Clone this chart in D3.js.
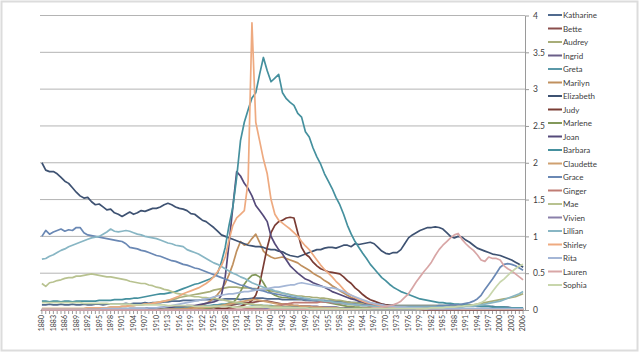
<!DOCTYPE html>
<html>
<head>
<meta charset="utf-8">
<script src="https://cdn.jsdelivr.net/npm/d3@7"></script>
<style>
  body { margin: 0; background: #fff; }
  svg { display: block; font-family: Lato, "Open Sans", sans-serif; }
</style>
</head>
<body>
<svg></svg>
<script>
// categories: one per year, labels every 3rd year
let years = d3.range(1880, 2007)
let yTicks = [0, 0.5, 1, 1.5, 2, 2.5, 3, 3.5, 4]

let names = ["Katharine", "Bette", "Audrey", "Ingrid", "Greta", "Marilyn", "Elizabeth", "Judy",
  "Marlene", "Joan", "Barbara", "Claudette", "Grace", "Ginger", "Mae", "Vivien", "Lillian",
  "Shirley", "Rita", "Lauren", "Sophia"]

let colors = ["#506a8e", "#8a4e4c", "#a8ad78", "#6a5e88", "#5a98a8", "#c0905e", "#3e5272", "#7a3c34",
  "#82985a", "#554a7a", "#45909e", "#cfa070", "#6a88b4", "#c07c74", "#b8c290", "#8a80aa", "#88b6c4",
  "#eeaa80", "#a4b6d6", "#d8a6a6", "#c8d6ac"]

// values per year 1880..2006 (10 per row)
let katharine = [
  0.07,0.07,0.08,0.07,0.07,0.08,0.07,0.07,0.08,0.07,
  0.07,0.08,0.07,0.07,0.08,0.08,0.07,0.08,0.08,0.08,
  0.08,0.08,0.09,0.08,0.09,0.09,0.09,0.1,0.09,0.1,
  0.1,0.1,0.11,0.11,0.12,0.12,0.12,0.13,0.13,0.13,
  0.13,0.13,0.14,0.14,0.14,0.14,0.14,0.14,0.15,0.15,
  0.15,0.15,0.14,0.15,0.15,0.16,0.16,0.16,0.16,0.15,
  0.15,0.15,0.15,0.14,0.14,0.14,0.14,0.14,0.14,0.13,
  0.13,0.13,0.13,0.13,0.13,0.12,0.12,0.12,0.12,0.11,
  0.11,0.1,0.1,0.1,0.09,0.09,0.09,0.08,0.08,0.08,
  0.07,0.07,0.07,0.06,0.06,0.06,0.06,0.06,0.06,0.06,
  0.06,0.06,0.06,0.06,0.06,0.06,0.06,0.06,0.06,0.06,
  0.06,0.06,0.06,0.06,0.05,0.05,0.05,0.05,0.05,0.04,
  0.04,0.04,0.04,0.03,0.03,0.03,0.03]
let bette = [
  0,0,0,0,0,0,0,0,0,0,
  0,0,0,0,0,0,0,0,0,0,
  0,0,0,0,0,0,0,0,0,0,
  0.01,0.01,0.01,0.01,0.01,0.01,0.01,0.01,0.01,0.02,
  0.02,0.02,0.03,0.03,0.03,0.04,0.04,0.05,0.05,0.06,
  0.07,0.08,0.09,0.1,0.1,0.1,0.11,0.12,0.12,0.12,
  0.11,0.1,0.09,0.08,0.08,0.07,0.06,0.06,0.05,0.05,
  0.05,0.04,0.04,0.04,0.03,0.03,0.03,0.02,0.02,0.02,
  0.02,0.02,0.01,0.01,0.01,0.01,0.01,0.01,0.01,0.01,
  0.01,0.01,0.01,0.01,0.01,0.01,0.01,0.01,0.01,0.01,
  0,0,0,0,0,0,0,0,0,0,
  0,0,0,0,0,0,0,0,0,0,
  0,0,0,0,0,0,0]
let audrey = [
  0.02,0.02,0.02,0.02,0.02,0.02,0.02,0.02,0.02,0.02,
  0.02,0.02,0.03,0.03,0.03,0.03,0.03,0.03,0.04,0.04,
  0.04,0.05,0.05,0.06,0.06,0.07,0.07,0.08,0.08,0.09,
  0.1,0.11,0.12,0.13,0.14,0.15,0.17,0.18,0.19,0.2,
  0.21,0.22,0.23,0.24,0.25,0.27,0.28,0.29,0.3,0.31,
  0.31,0.31,0.3,0.3,0.3,0.29,0.29,0.28,0.28,0.27,
  0.26,0.25,0.24,0.23,0.22,0.21,0.2,0.19,0.19,0.18,
  0.18,0.17,0.17,0.16,0.16,0.15,0.14,0.13,0.13,0.12,
  0.11,0.1,0.1,0.09,0.09,0.08,0.08,0.07,0.07,0.07,
  0.06,0.06,0.06,0.06,0.06,0.06,0.06,0.06,0.06,0.06,
  0.06,0.06,0.06,0.06,0.06,0.06,0.06,0.06,0.06,0.06,
  0.06,0.06,0.07,0.07,0.08,0.09,0.1,0.11,0.12,0.13,
  0.14,0.15,0.16,0.17,0.18,0.2,0.22]
let ingrid = [
  0,0,0,0,0,0,0,0,0,0,
  0,0,0,0,0,0,0,0,0,0,
  0,0,0,0,0,0,0,0,0,0,
  0,0,0,0,0,0,0,0,0,0,
  0,0,0,0,0,0,0,0,0,0,
  0,0,0,0.01,0.01,0.01,0.01,0.01,0.01,0.02,
  0.02,0.03,0.03,0.04,0.04,0.05,0.05,0.05,0.05,0.05,
  0.05,0.05,0.05,0.04,0.04,0.04,0.04,0.04,0.03,0.03,
  0.03,0.03,0.03,0.03,0.02,0.02,0.02,0.02,0.02,0.02,
  0.01,0.01,0.01,0.01,0.01,0.01,0.01,0.01,0.01,0.01,
  0.01,0.01,0.01,0.01,0.01,0.01,0.01,0.01,0.01,0.01,
  0.01,0.01,0.01,0.01,0.01,0.01,0.01,0.01,0.01,0.01,
  0.01,0.01,0.01,0.01,0.01,0.01,0.01]
let greta = [
  0.01,0.01,0.01,0.01,0.01,0.01,0.01,0.01,0.01,0.01,
  0.01,0.01,0.01,0.01,0.01,0.01,0.01,0.01,0.01,0.01,
  0.02,0.02,0.02,0.02,0.02,0.02,0.02,0.02,0.02,0.02,
  0.02,0.02,0.03,0.03,0.03,0.03,0.03,0.04,0.04,0.04,
  0.04,0.05,0.05,0.06,0.06,0.07,0.07,0.08,0.08,0.09,
  0.09,0.09,0.09,0.08,0.08,0.07,0.07,0.07,0.06,0.06,
  0.06,0.05,0.05,0.05,0.04,0.04,0.04,0.04,0.03,0.03,
  0.03,0.03,0.03,0.02,0.02,0.02,0.02,0.02,0.02,0.02,
  0.01,0.01,0.01,0.01,0.01,0.01,0.01,0.01,0.01,0.01,
  0.01,0.01,0.01,0.01,0.01,0.01,0.01,0.01,0.01,0.01,
  0.01,0.01,0.01,0.01,0.01,0.01,0.01,0.01,0.01,0.01,
  0.01,0.01,0.01,0.01,0.01,0.01,0.01,0.01,0.01,0.01,
  0.01,0.01,0.01,0.01,0.01,0.01,0.01]
let marilyn = [
  0,0,0,0,0,0,0,0,0,0,
  0,0,0,0,0,0,0,0,0,0,
  0,0,0,0,0,0,0,0,0,0,
  0,0,0,0,0.01,0.01,0.01,0.02,0.02,0.03,
  0.04,0.05,0.07,0.09,0.12,0.16,0.21,0.28,0.36,0.48,
  0.62,0.8,0.93,0.88,0.9,0.97,1.03,0.92,0.8,0.75,
  0.72,0.7,0.71,0.72,0.7,0.68,0.66,0.64,0.6,0.57,
  0.54,0.5,0.47,0.44,0.4,0.37,0.33,0.3,0.26,0.23,
  0.2,0.17,0.15,0.13,0.11,0.1,0.08,0.07,0.06,0.05,
  0.05,0.04,0.04,0.03,0.03,0.03,0.03,0.02,0.02,0.02,
  0.02,0.02,0.02,0.02,0.02,0.02,0.02,0.02,0.02,0.02,
  0.01,0.01,0.01,0.01,0.01,0.01,0.01,0.01,0.01,0.01,
  0.01,0.01,0.01,0.01,0.01,0.01,0.01]
let elizabeth = [
  2.0,1.9,1.88,1.88,1.85,1.8,1.75,1.72,1.66,1.6,
  1.55,1.52,1.53,1.47,1.43,1.44,1.4,1.36,1.37,1.32,
  1.3,1.27,1.3,1.33,1.3,1.32,1.35,1.34,1.36,1.38,
  1.38,1.4,1.43,1.45,1.43,1.4,1.38,1.37,1.35,1.31,
  1.3,1.26,1.22,1.2,1.16,1.12,1.07,1.02,1.0,0.98,
  0.96,0.94,0.92,0.9,0.88,0.87,0.86,0.86,0.85,0.83,
  0.82,0.82,0.8,0.79,0.76,0.74,0.73,0.72,0.74,0.76,
  0.78,0.8,0.82,0.82,0.84,0.85,0.85,0.84,0.86,0.88,
  0.88,0.86,0.9,0.89,0.9,0.91,0.92,0.9,0.85,0.8,
  0.77,0.76,0.78,0.78,0.82,0.9,0.98,1.02,1.05,1.08,
  1.1,1.12,1.12,1.13,1.12,1.1,1.05,1.0,0.98,1.0,
  0.99,0.95,0.92,0.88,0.84,0.82,0.8,0.78,0.76,0.75,
  0.74,0.72,0.7,0.68,0.65,0.62,0.58]
let judy = [
  0,0,0,0,0,0,0,0,0,0,
  0,0,0,0,0,0,0,0,0,0,
  0,0,0,0,0,0,0,0,0,0,
  0,0,0,0,0,0,0,0,0,0,
  0,0,0,0.01,0.01,0.01,0.02,0.02,0.02,0.03,
  0.03,0.04,0.05,0.07,0.09,0.13,0.2,0.35,0.6,0.85,
  1.05,1.15,1.2,1.22,1.25,1.26,1.25,1.05,0.85,0.76,
  0.72,0.65,0.6,0.56,0.54,0.52,0.51,0.5,0.49,0.45,
  0.4,0.36,0.3,0.26,0.21,0.17,0.14,0.12,0.1,0.08,
  0.07,0.06,0.05,0.04,0.03,0.03,0.02,0.02,0.02,0.02,
  0.01,0.01,0.01,0.01,0.01,0.01,0.01,0.01,0.01,0.01,
  0.01,0.01,0.01,0.01,0.01,0.01,0.01,0.01,0.01,0.01,
  0.01,0.01,0.01,0.01,0.01,0.01,0.01]
let marlene = [
  0,0,0,0,0,0,0,0,0,0,
  0,0,0,0,0,0,0,0,0,0,
  0,0,0,0,0,0,0,0,0,0,
  0,0,0,0,0,0,0,0,0,0,
  0.01,0.01,0.02,0.02,0.03,0.04,0.05,0.06,0.07,0.09,
  0.1,0.15,0.25,0.35,0.42,0.47,0.48,0.45,0.37,0.28,
  0.23,0.2,0.18,0.17,0.17,0.16,0.16,0.15,0.15,0.14,
  0.14,0.13,0.13,0.12,0.11,0.1,0.09,0.08,0.07,0.06,
  0.05,0.05,0.04,0.04,0.03,0.03,0.03,0.02,0.02,0.02,
  0.01,0.01,0.01,0.01,0.01,0.01,0.01,0.01,0.01,0.01,
  0.01,0.01,0.01,0.01,0.01,0.01,0.01,0.01,0.01,0.01,
  0.01,0.01,0.01,0.01,0.01,0.01,0.01,0.01,0.01,0.01,
  0.01,0.01,0.01,0.01,0.01,0.01,0.01]
let joan = [
  0.01,0.01,0.01,0.01,0.01,0.01,0.01,0.01,0.01,0.01,
  0.01,0.01,0.01,0.01,0.01,0.01,0.01,0.01,0.01,0.01,
  0.01,0.01,0.01,0.02,0.02,0.02,0.02,0.02,0.03,0.03,
  0.03,0.03,0.04,0.04,0.04,0.05,0.05,0.05,0.06,0.06,
  0.06,0.07,0.08,0.09,0.1,0.11,0.13,0.2,0.45,0.9,
  1.4,1.88,1.82,1.72,1.65,1.55,1.42,1.35,1.28,1.2,
  1.0,0.9,0.82,0.76,0.68,0.6,0.55,0.5,0.46,0.42,
  0.4,0.37,0.35,0.33,0.31,0.28,0.25,0.23,0.21,0.19,
  0.17,0.15,0.14,0.12,0.11,0.09,0.08,0.07,0.06,0.05,
  0.05,0.04,0.04,0.03,0.03,0.03,0.02,0.02,0.02,0.02,
  0.01,0.01,0.01,0.01,0.01,0.01,0.01,0.01,0.01,0.01,
  0.01,0.01,0.01,0.01,0.01,0.01,0.01,0.01,0.01,0.01,
  0.01,0.01,0.01,0.01,0.01,0.01,0.01]
let barbara = [
  0.12,0.12,0.11,0.12,0.12,0.11,0.12,0.12,0.11,0.12,
  0.12,0.12,0.12,0.12,0.12,0.13,0.13,0.13,0.13,0.14,
  0.14,0.14,0.15,0.15,0.16,0.16,0.17,0.18,0.19,0.2,
  0.21,0.22,0.22,0.23,0.24,0.25,0.27,0.29,0.31,0.33,
  0.35,0.36,0.38,0.4,0.42,0.45,0.5,0.65,0.85,1.15,
  1.4,1.8,2.3,2.55,2.72,2.88,2.95,3.2,3.43,3.25,
  3.1,3.15,3.2,2.95,2.87,2.82,2.78,2.67,2.62,2.42,
  2.35,2.2,2.08,1.98,1.85,1.75,1.65,1.53,1.43,1.3,
  1.15,1.03,0.93,0.85,0.77,0.7,0.62,0.56,0.5,0.44,
  0.4,0.35,0.31,0.28,0.25,0.23,0.21,0.19,0.17,0.15,
  0.14,0.13,0.12,0.11,0.1,0.1,0.09,0.09,0.08,0.08,
  0.07,0.07,0.06,0.06,0.06,0.05,0.05,0.05,0.04,0.04,
  0.04,0.04,0.03,0.03,0.03,0.03,0.03]
let claudette = [
  0,0,0,0,0,0,0,0,0,0,
  0,0,0,0,0,0,0,0,0,0,
  0,0,0,0,0,0,0,0,0,0,
  0.01,0.01,0.01,0.01,0.01,0.01,0.01,0.01,0.01,0.01,
  0.02,0.03,0.03,0.04,0.04,0.05,0.05,0.06,0.07,0.08,
  0.09,0.1,0.11,0.12,0.13,0.14,0.14,0.13,0.12,0.11,
  0.1,0.09,0.08,0.08,0.07,0.07,0.06,0.06,0.05,0.05,
  0.05,0.04,0.04,0.04,0.03,0.03,0.03,0.03,0.02,0.02,
  0.01,0.01,0.01,0.01,0.01,0.01,0.01,0.01,0.01,0.01,
  0.01,0.01,0.01,0.01,0.01,0.01,0.01,0.01,0.01,0.01,
  0.01,0.01,0.01,0.01,0.01,0.01,0.01,0.01,0.01,0.01,
  0.01,0.01,0.01,0.01,0.01,0.01,0.01,0.01,0.01,0.01,
  0.01,0.01,0.01,0.01,0.01,0.01,0.01]
let grace = [
  1.0,1.08,1.03,1.06,1.08,1.1,1.07,1.09,1.08,1.12,
  1.12,1.05,1.02,1.01,1.0,0.99,0.98,0.97,0.96,0.95,
  0.94,0.93,0.9,0.85,0.84,0.83,0.81,0.8,0.78,0.76,
  0.74,0.73,0.71,0.69,0.67,0.66,0.64,0.62,0.61,0.59,
  0.57,0.56,0.54,0.52,0.5,0.48,0.46,0.44,0.42,0.4,
  0.38,0.36,0.34,0.33,0.31,0.29,0.28,0.27,0.26,0.24,
  0.23,0.22,0.21,0.2,0.19,0.18,0.17,0.16,0.15,0.14,
  0.13,0.13,0.12,0.12,0.11,0.11,0.1,0.1,0.09,0.09,
  0.08,0.08,0.08,0.07,0.07,0.07,0.06,0.06,0.06,0.06,
  0.05,0.05,0.05,0.05,0.05,0.05,0.05,0.05,0.05,0.05,
  0.05,0.05,0.05,0.05,0.06,0.06,0.06,0.07,0.07,0.07,
  0.08,0.09,0.1,0.12,0.15,0.2,0.28,0.35,0.42,0.5,
  0.58,0.62,0.63,0.62,0.6,0.57,0.54]
let ginger = [
  0,0,0,0,0,0,0,0,0,0,
  0,0,0,0,0,0,0,0,0,0,
  0,0,0,0,0,0,0,0,0,0,
  0,0,0,0,0,0,0,0,0,0,
  0,0,0,0,0,0,0,0,0,0,
  0.01,0.01,0.01,0.01,0.02,0.02,0.02,0.02,0.03,0.03,
  0.04,0.05,0.06,0.07,0.08,0.09,0.1,0.1,0.1,0.1,
  0.1,0.1,0.1,0.11,0.11,0.11,0.1,0.1,0.09,0.09,
  0.08,0.08,0.07,0.07,0.06,0.06,0.05,0.05,0.05,0.04,
  0.04,0.04,0.03,0.03,0.03,0.03,0.02,0.02,0.02,0.02,
  0.01,0.01,0.01,0.01,0.01,0.01,0.01,0.01,0.01,0.01,
  0.01,0.01,0.01,0.01,0.01,0.01,0.01,0.01,0.01,0.01,
  0.01,0.01,0.01,0.01,0.01,0.01,0.01]
let mae = [
  0.36,0.32,0.37,0.38,0.4,0.41,0.43,0.44,0.44,0.46,
  0.46,0.47,0.48,0.49,0.48,0.47,0.46,0.45,0.45,0.44,
  0.43,0.42,0.41,0.39,0.38,0.37,0.36,0.36,0.34,0.33,
  0.31,0.3,0.28,0.27,0.25,0.23,0.22,0.21,0.2,0.19,
  0.18,0.18,0.17,0.17,0.16,0.16,0.15,0.14,0.13,0.12,
  0.11,0.1,0.1,0.09,0.08,0.08,0.07,0.07,0.06,0.06,
  0.05,0.05,0.05,0.04,0.04,0.04,0.03,0.03,0.03,0.03,
  0.02,0.02,0.02,0.02,0.02,0.02,0.02,0.02,0.02,0.02,
  0.01,0.01,0.01,0.01,0.01,0.01,0.01,0.01,0.01,0.01,
  0.01,0.01,0.01,0.01,0.01,0.01,0.01,0.01,0.01,0.01,
  0.01,0.01,0.01,0.01,0.01,0.01,0.01,0.01,0.01,0.01,
  0.01,0.01,0.01,0.01,0.01,0.01,0.01,0.01,0.01,0.01,
  0.01,0.01,0.01,0.01,0.01,0.01,0.01]
let vivien = [
  0,0,0,0,0,0,0,0,0,0,
  0,0,0,0,0,0,0,0,0,0,
  0,0,0,0,0,0,0,0,0,0,
  0,0,0,0,0,0,0,0,0,0,
  0,0,0,0,0,0,0,0,0,0,
  0,0,0,0,0,0,0.01,0.01,0.01,0.02,
  0.03,0.03,0.03,0.02,0.02,0.02,0.02,0.02,0.02,0.02,
  0.01,0.01,0.01,0.01,0.01,0.01,0.01,0.01,0.01,0.01,
  0.01,0.01,0.01,0.01,0.01,0.01,0.01,0.01,0.01,0.01,
  0.01,0.01,0.01,0.01,0.01,0.01,0.01,0.01,0.01,0.01,
  0.01,0.01,0.01,0.01,0.01,0.01,0.01,0.01,0.01,0.01,
  0.01,0.01,0.01,0.01,0.01,0.01,0.01,0.01,0.01,0.01,
  0.01,0.01,0.01,0.01,0.01,0.01,0.01]
let lillian = [
  0.69,0.7,0.73,0.75,0.78,0.81,0.83,0.86,0.88,0.9,
  0.92,0.94,0.96,0.98,0.99,1.0,1.03,1.06,1.1,1.07,
  1.06,1.07,1.08,1.07,1.05,1.03,1.02,1.0,0.99,0.98,
  0.97,0.95,0.93,0.91,0.9,0.88,0.87,0.86,0.82,0.8,
  0.78,0.76,0.73,0.7,0.67,0.64,0.62,0.59,0.56,0.53,
  0.5,0.48,0.45,0.43,0.4,0.37,0.35,0.33,0.31,0.29,
  0.28,0.26,0.25,0.23,0.22,0.2,0.19,0.18,0.17,0.16,
  0.15,0.14,0.14,0.13,0.12,0.12,0.11,0.1,0.1,0.09,
  0.08,0.08,0.07,0.07,0.06,0.06,0.06,0.05,0.05,0.05,
  0.05,0.04,0.04,0.04,0.04,0.04,0.04,0.04,0.04,0.04,
  0.04,0.04,0.04,0.04,0.04,0.04,0.04,0.04,0.04,0.04,
  0.04,0.05,0.05,0.05,0.06,0.07,0.08,0.09,0.1,0.11,
  0.12,0.14,0.16,0.18,0.2,0.22,0.25]
let shirley = [
  0.02,0.02,0.02,0.02,0.02,0.02,0.02,0.02,0.02,0.02,
  0.02,0.02,0.03,0.03,0.03,0.03,0.03,0.03,0.04,0.04,
  0.04,0.05,0.05,0.06,0.06,0.07,0.07,0.08,0.08,0.09,
  0.1,0.11,0.12,0.13,0.15,0.17,0.19,0.22,0.24,0.26,
  0.28,0.3,0.33,0.36,0.4,0.45,0.52,0.6,0.72,0.95,
  1.15,1.25,1.3,1.35,1.75,3.9,2.55,2.3,2.05,1.85,
  1.5,1.3,1.22,1.18,1.14,1.1,1.05,1.0,0.93,0.87,
  0.82,0.75,0.68,0.61,0.55,0.5,0.45,0.39,0.34,0.28,
  0.23,0.2,0.17,0.14,0.12,0.1,0.09,0.08,0.07,0.06,
  0.05,0.05,0.04,0.04,0.03,0.03,0.03,0.03,0.02,0.02,
  0.02,0.02,0.02,0.02,0.02,0.02,0.02,0.02,0.02,0.02,
  0.01,0.01,0.01,0.01,0.01,0.01,0.01,0.01,0.01,0.01,
  0.01,0.01,0.01,0.01,0.01,0.01,0.01]
let rita = [
  0.01,0.01,0.01,0.01,0.01,0.01,0.01,0.01,0.01,0.01,
  0.01,0.01,0.01,0.01,0.01,0.01,0.02,0.02,0.02,0.02,
  0.02,0.02,0.02,0.02,0.02,0.02,0.02,0.02,0.03,0.03,
  0.03,0.04,0.04,0.05,0.06,0.07,0.08,0.09,0.1,0.11,
  0.12,0.13,0.14,0.15,0.16,0.18,0.19,0.2,0.21,0.22,
  0.22,0.23,0.24,0.25,0.25,0.26,0.27,0.28,0.28,0.29,
  0.3,0.31,0.31,0.32,0.33,0.34,0.34,0.36,0.37,0.36,
  0.35,0.34,0.33,0.32,0.31,0.3,0.3,0.29,0.27,0.25,
  0.22,0.2,0.18,0.16,0.14,0.12,0.1,0.09,0.08,0.07,
  0.06,0.05,0.05,0.04,0.04,0.04,0.03,0.03,0.03,0.03,
  0.02,0.02,0.02,0.02,0.02,0.02,0.02,0.02,0.02,0.02,
  0.02,0.02,0.02,0.02,0.02,0.02,0.02,0.02,0.02,0.02,
  0.02,0.02,0.02,0.02,0.02,0.02,0.02]
let lauren = [
  0,0,0,0,0,0,0,0,0,0,
  0,0,0,0,0,0,0,0,0,0,
  0,0,0,0,0,0,0,0,0,0,
  0,0,0,0,0,0,0,0,0,0,
  0,0,0,0,0,0,0,0,0,0,
  0,0,0,0,0,0,0,0,0,0,
  0.01,0.01,0.01,0.01,0.01,0.01,0.01,0.01,0.01,0.01,
  0.01,0.01,0.01,0.01,0.01,0.01,0.01,0.01,0.01,0.01,
  0.01,0.01,0.01,0.01,0.02,0.02,0.02,0.03,0.03,0.04,
  0.05,0.06,0.07,0.09,0.12,0.17,0.22,0.3,0.38,0.45,
  0.52,0.58,0.65,0.74,0.82,0.88,0.93,0.98,1.02,1.04,
  0.96,0.9,0.85,0.81,0.75,0.68,0.66,0.72,0.7,0.7,
  0.68,0.6,0.56,0.53,0.49,0.45,0.41]
let sophia = [
  0.1,0.1,0.1,0.1,0.1,0.1,0.1,0.1,0.1,0.1,
  0.1,0.09,0.09,0.09,0.09,0.09,0.09,0.09,0.08,0.08,
  0.08,0.08,0.08,0.08,0.07,0.07,0.07,0.07,0.07,0.07,
  0.07,0.07,0.07,0.06,0.06,0.06,0.06,0.06,0.06,0.06,
  0.05,0.05,0.05,0.05,0.05,0.05,0.05,0.05,0.05,0.05,
  0.04,0.04,0.04,0.04,0.04,0.04,0.04,0.04,0.04,0.04,
  0.03,0.03,0.03,0.03,0.03,0.03,0.03,0.03,0.03,0.03,
  0.02,0.02,0.02,0.02,0.02,0.02,0.02,0.02,0.02,0.02,
  0.02,0.02,0.02,0.02,0.02,0.02,0.02,0.02,0.02,0.02,
  0.02,0.02,0.02,0.02,0.02,0.02,0.02,0.02,0.02,0.02,
  0.02,0.02,0.03,0.03,0.03,0.03,0.04,0.04,0.04,0.05,
  0.05,0.06,0.06,0.07,0.08,0.1,0.13,0.18,0.25,0.32,
  0.38,0.42,0.47,0.52,0.56,0.6,0.62]

let series = [katharine, bette, audrey, ingrid, greta, marilyn, elizabeth, judy, marlene, joan,
  barbara, claudette, grace, ginger, mae, vivien, lillian, shirley, rita, lauren, sophia]

let svgWidth = 640, svgHeight = 354
let plotLeft = 40, plotRight = 525, plotTop = 15.5, plotBottom = 310

let svg = d3.select('svg')
  .attr("width", svgWidth)
  .attr("height", svgHeight)

// outer frame
svg.append("rect")
  .attr("x", 1.5).attr("y", 1.5)
  .attr("width", svgWidth - 4).attr("height", svgHeight - 5)
  .attr("fill", "none")
  .attr("stroke", "#dcdcdc")
  .attr("stroke-width", 2)

let xScale = d3.scaleBand().domain(years).range([plotLeft, plotRight])
let yScale = d3.scaleLinear().domain([0, 4]).range([plotBottom, plotTop])

// horizontal gridlines
svg.append("g")
  .selectAll("line")
  .data(yTicks.slice(1))
  .enter()
  .append("line")
  .attr("x1", plotLeft).attr("x2", plotRight)
  .attr("y1", d => yScale(d)).attr("y2", d => yScale(d))
  .attr("stroke", "#b4b4b4")
  .attr("stroke-width", 1)

// right value axis
let yAxis = d3.axisRight(yScale)
  .tickValues(yTicks)
  .tickFormat(d => String(d))
  .tickSize(4).tickSizeOuter(0).tickPadding(4)
let yG = svg.append("g")
  .attr("transform", "translate(" + plotRight + ",0)")
  .call(yAxis)
yG.select(".domain").attr("stroke", "#9a9a9a")
yG.selectAll(".tick line").attr("stroke", "#9a9a9a")
yG.selectAll("text").attr("font-size", 8.5).attr("fill", "#404040").style("font-family", "Lato, sans-serif")

// bottom category axis
let xAxis = d3.axisBottom(xScale)
  .tickSize(4).tickSizeOuter(0)
  .tickFormat(d => (d - 1880) % 3 === 0 ? d : "")
let xG = svg.append("g")
  .attr("transform", "translate(0," + plotBottom + ")")
  .call(xAxis)
xG.select(".domain").attr("stroke", "#9a9a9a")
xG.selectAll(".tick line").attr("stroke", "#9a9a9a")
xG.selectAll("text")
  .attr("transform", "rotate(-90)")
  .attr("text-anchor", "end")
  .attr("x", -5).attr("y", 0).attr("dy", "0.33em")
  .attr("font-size", 7).attr("fill", "#404040")
  .style("font-family", "Lato, sans-serif")

// series lines
let line = d3.line()
  .x((d, i) => xScale(years[i]) + xScale.bandwidth() / 2)
  .y(d => yScale(d))

svg.append("g")
  .selectAll("path")
  .data(series)
  .enter()
  .append("path")
  .attr("d", d => line(d))
  .attr("fill", "none")
  .attr("stroke", (d, i) => colors[i])
  .attr("stroke-width", 1.7)
  .attr("stroke-linejoin", "round")

// legend
let legend = svg.append("g")
  .selectAll("g")
  .data(names)
  .enter()
  .append("g")
  .attr("transform", (d, i) => "translate(548," + (15 + i * 13.5) + ")")
legend.append("line")
  .attr("x1", 0).attr("x2", 14)
  .attr("stroke", (d, i) => colors[i])
  .attr("stroke-width", 2)
legend.append("text")
  .text(d => d)
  .attr("x", 15).attr("y", 3)
  .attr("font-size", 8).attr("fill", "#404040")
</script>
</body>
</html>
